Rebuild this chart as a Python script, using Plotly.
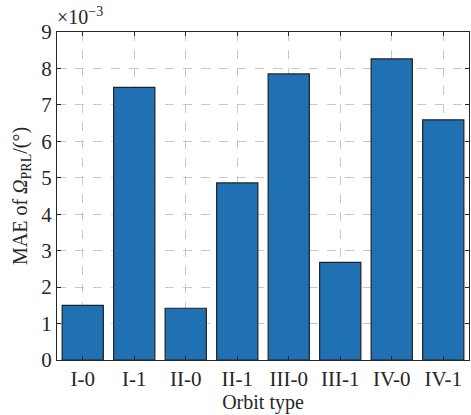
import plotly.graph_objects as go

categories = ["I-0", "I-1", "II-0", "II-1", "III-0", "III-1", "IV-0", "IV-1"]
mae_values = [1.50, 7.48, 1.42, 4.86, 7.85, 2.68, 8.26, 6.59]  # x 10^-3
y_ticks = list(range(0, 10))

FONT = "Liberation Serif, Times New Roman, serif"
AX = "#262626"

fig = go.Figure()
fig.add_trace(go.Bar(
    x=list(range(1, len(categories) + 1)),
    y=mae_values,
    width=0.8,
    marker=dict(color="#1f71b3", line=dict(color="#222222", width=1.2)),
))

fig.update_layout(
    width=471, height=415,
    margin=dict(l=57, r=2, t=32, b=55),
    plot_bgcolor="white", paper_bgcolor="white",
    font=dict(family=FONT, size=20, color=AX),
    showlegend=False,
)
fig.update_xaxes(
    range=[0.5, len(categories) + 0.5],
    tickmode="array",
    tickvals=list(range(1, len(categories) + 1)),
    ticktext=categories,
    ticks="inside", ticklen=4, tickcolor=AX,
    showline=True, linecolor=AX, linewidth=1.3, mirror="ticks",
    showgrid=True, gridcolor="#c8c8c8", griddash="dash", gridwidth=1,
    zeroline=False, automargin=False,
    title=dict(text="Orbit type", standoff=3, font=dict(size=20)),
    tickfont=dict(size=21),
)
fig.update_yaxes(
    range=[0, 9],
    tickmode="array", tickvals=y_ticks,
    ticks="inside", ticklen=4, tickcolor=AX,
    showline=True, linecolor=AX, linewidth=1.3, mirror="ticks",
    showgrid=True, gridcolor="#c8c8c8", griddash="dash", gridwidth=1,
    zeroline=False, automargin=False,
    title=dict(text="MAE of <i>Ω</i><sub>PRL</sub>/(°)", standoff=8, font=dict(size=20)),
    tickfont=dict(size=21),
)
fig.add_annotation(
    text="×10<sup>−3</sup>", xref="paper", yref="paper",
    x=0.0, y=1.0, xanchor="left", yanchor="bottom", yshift=2, xshift=-2,
    showarrow=False, font=dict(family=FONT, size=20, color=AX),
)

fig.write_html(
    "out.html",
    config={"displayModeBar": False},
    post_script="document.body.style.margin='0';document.body.style.padding='0';",
)
